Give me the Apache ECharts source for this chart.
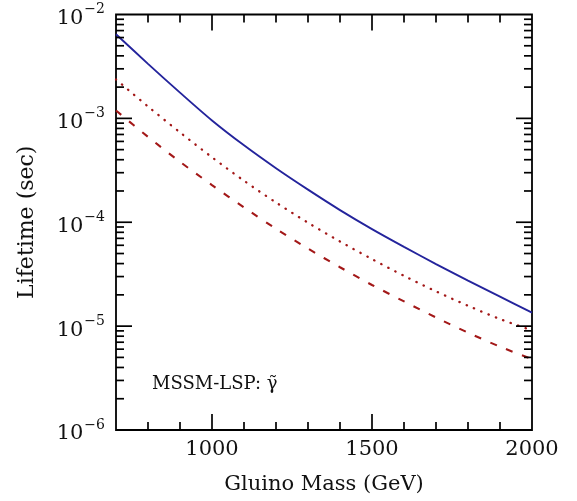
<!DOCTYPE html>
<html>
<head>
<meta charset="utf-8">
<script src="https://cdn.jsdelivr.net/npm/echarts@6/dist/echarts.min.js"></script>
<style>html,body{margin:0;padding:0;background:#fff}#c{width:577px;height:501px}</style>
</head>
<body>
<div id="c"></div>
<script>
// Gluino mass grid (GeV)
const mass = [700, 800, 900, 1000, 1100, 1200, 1300, 1400, 1500, 1600, 1700, 1800, 1900, 2000];
// Lifetimes (sec)
const solidBlue = [6.46e-3, 3.35e-3, 1.77e-3, 9.55e-4, 5.5e-4, 3.31e-4, 2.06e-4, 1.31e-4, 8.6e-5, 5.8e-5, 3.96e-5, 2.74e-5, 1.92e-5, 1.35e-5];
const dottedRed = [2.37e-3, 1.30e-3, 7.33e-4, 4.22e-4, 2.51e-4, 1.55e-4, 9.9e-5, 6.53e-5, 4.42e-5, 3.05e-5, 2.16e-5, 1.57e-5, 1.17e-5, 9.1e-6];
const dashedRed = [1.19e-3, 6.64e-4, 3.82e-4, 2.28e-4, 1.39e-4, 8.65e-5, 5.58e-5, 3.69e-5, 2.49e-5, 1.73e-5, 1.21e-5, 8.65e-6, 6.34e-6, 4.81e-6];
// Tick positions
const xMajorTicks = [1000, 1500];
const xMinorTicks = [800, 900, 1100, 1200, 1300, 1400, 1600, 1700, 1800, 1900];
const yMajorTicks = [1e-5, 1e-4, 1e-3];
const yMinorMantissa = [2, 3, 4, 5, 6, 7, 8, 9];
const yDecades = [1e-6, 1e-5, 1e-4, 1e-3];
const xLabels = [1000, 1500, 2000];
const annotation = 'MSSM-LSP: \u03B3\u0303';

const X_MIN = 700, X_MAX = 2000, Y_MIN = 1e-6, Y_MAX = 1e-2;
const FONT = 'DejaVu Serif';

const yMinorTicks = [];
yDecades.forEach(d => yMinorMantissa.forEach(m => yMinorTicks.push(m * d)));

const MAJ = 16, MIN = 8;
const xTickData = xMajorTicks.map(v => [v, Y_MIN, MAJ]).concat(xMinorTicks.map(v => [v, Y_MIN, MIN]));
const yTickData = yMajorTicks.map(v => [X_MIN, v, MAJ]).concat(yMinorTicks.map(v => [X_MIN, v, MIN]));

const tickStyle = {stroke: '#000', lineWidth: 1.7};

function xTickRender(params, api) {
  const x = api.value(0), L = api.value(2);
  const pb = api.coord([x, Y_MIN]);
  const pt = api.coord([x, Y_MAX]);
  return {type: 'group', children: [
    {type: 'line', shape: {x1: pb[0], y1: pb[1], x2: pb[0], y2: pb[1] - L}, style: tickStyle},
    {type: 'line', shape: {x1: pt[0], y1: pt[1], x2: pt[0], y2: pt[1] + L}, style: tickStyle}
  ]};
}
function yTickRender(params, api) {
  const y = api.value(1), L = api.value(2);
  const pl = api.coord([X_MIN, y]);
  const pr = api.coord([X_MAX, y]);
  return {type: 'group', children: [
    {type: 'line', shape: {x1: pl[0], y1: pl[1], x2: pl[0] + L, y2: pl[1]}, style: tickStyle},
    {type: 'line', shape: {x1: pr[0], y1: pr[1], x2: pr[0] - L, y2: pr[1]}, style: tickStyle}
  ]};
}

const pairs = arr => mass.map((m, i) => [m, arr[i]]);

const chart = echarts.init(document.getElementById('c'), null, {renderer: 'canvas'});
chart.setOption({
  animation: false,
  backgroundColor: '#fff',
  grid: {left: 116, right: 45, top: 14, bottom: 71, show: true, borderColor: '#000', borderWidth: 1.8, backgroundColor: 'transparent'},
  xAxis: {
    type: 'value', min: X_MIN, max: X_MAX, interval: 100,
    axisLine: {show: false}, axisTick: {show: false}, splitLine: {show: false},
    axisLabel: {
      fontFamily: FONT, fontSize: 21, color: '#111', margin: 9,
      formatter: v => (xLabels.indexOf(v) >= 0 ? String(v) : '')
    },
    name: 'Gluino Mass (GeV)', nameLocation: 'middle', nameGap: 44,
    nameTextStyle: {fontFamily: FONT, fontSize: 21, color: '#111'}
  },
  yAxis: {
    type: 'log', logBase: 10, min: Y_MIN, max: Y_MAX,
    axisLine: {show: false}, axisTick: {show: false}, splitLine: {show: false}, minorTick: {show: false},
    axisLabel: {
      margin: 11,
      formatter: v => {
        const e = Math.round(Math.log10(v));
        return '{b|10}{s|\u2212' + (-e) + '}';
      },
      rich: {
        b: {fontFamily: FONT, fontSize: 21, color: '#111', lineHeight: 22, padding: [8, 0, 0, 0]},
        s: {fontFamily: FONT, fontSize: 14, color: '#111', lineHeight: 16, padding: [0, 0, 10, 1]}
      }
    },
    name: 'Lifetime (sec)', nameLocation: 'middle', nameGap: 78, nameRotate: 90,
    nameTextStyle: {fontFamily: FONT, fontSize: 22, color: '#111'}
  },
  graphic: [{
    type: 'text', left: 152, top: 375,
    style: {text: annotation, fontFamily: FONT, fontSize: 18, fill: '#111'}
  }],
  series: [
    {type: 'line', data: pairs(solidBlue), showSymbol: false, smooth: 0.3,
      lineStyle: {color: '#24249c', width: 1.9, type: 'solid'}},
    {type: 'line', data: pairs(dottedRed), showSymbol: false, smooth: 0.3,
      lineStyle: {color: '#a31818', width: 2.3, type: [0.4, 7.5], cap: 'round'}},
    {type: 'line', data: pairs(dashedRed), showSymbol: false, smooth: 0.3,
      lineStyle: {color: '#a31818', width: 2.1, type: [7, 10]}},
    {type: 'custom', data: xTickData, renderItem: xTickRender, silent: true, z: 5},
    {type: 'custom', data: yTickData, renderItem: yTickRender, silent: true, z: 5}
  ]
});
</script>
</body>
</html>
